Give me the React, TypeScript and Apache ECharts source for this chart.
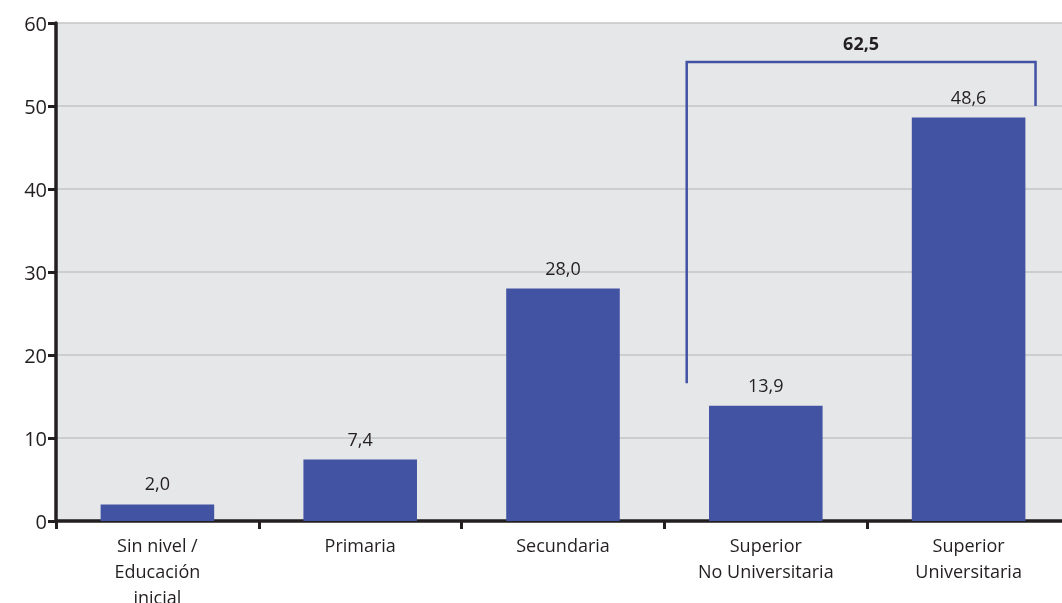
import React, { useEffect, useRef } from "react";
import * as echarts from "echarts";

const categories = ["Sin nivel /\nEducación\ninicial", "Primaria", "Secundaria", "Superior\nNo Universitaria", "Superior\nUniversitaria"];
const values = [2.0, 7.4, 28.0, 13.9, 48.6];
const yTicks = [0, 10, 20, 30, 40, 50, 60];
// bracket annotation: x positions on a 0..5 category-span scale, y values
const bracketX = [3.11, 4.83];
const bracketY = [16.6, 55.3, 50.0];
const bracketTotal = 62.5;
const bracketLabelX = 3.97;
const bracketLabelY = 57.6;

const fmt = (v: number) => v.toFixed(1).replace(".", ",");

export default function App() {
  const ref = useRef<HTMLDivElement>(null);
  useEffect(() => {
    const chart = echarts.init(ref.current!, undefined, { renderer: "svg" });
    const font = "'Open Sans', 'Noto Sans', sans-serif";
    chart.setOption({
      animation: false,
      textStyle: { fontFamily: font },
      grid: {
        left: 56, right: -8, top: 23, bottom: 82,
        outerBoundsMode: "none", containLabel: false,
        show: true, backgroundColor: "#e6e7e9", borderWidth: 0,
      },
      xAxis: [
        {
          type: "category",
          data: categories,
          axisLine: { lineStyle: { color: "#231f20", width: 3.5 } },
          axisTick: { show: true, length: 8, lineStyle: { color: "#231f20", width: 3 } },
          axisLabel: { color: "#231f20", fontSize: 18, lineHeight: 26, margin: 11, fontFamily: font },
        },
        { type: "value", min: 0, max: 5, show: false },
      ],
      yAxis: {
        type: "value",
        min: yTicks[0],
        max: yTicks[yTicks.length - 1],
        interval: 10,
        axisLine: { show: true, lineStyle: { color: "#231f20", width: 3.5 } },
        axisTick: { show: true, length: 8, lineStyle: { color: "#231f20", width: 3 } },
        axisLabel: { color: "#231f20", fontSize: 20, margin: 9, fontFamily: font },
        splitLine: { lineStyle: { color: "#c3c4c6", width: 1.5 } },
      },
      series: [
        {
          type: "bar",
          data: values,
          barWidth: "56%",
          itemStyle: { color: "#4353a3" },
          label: {
            show: true,
            position: "top",
            distance: 12,
            color: "#231f20",
            fontSize: 18,
            fontFamily: font,
            formatter: (p: any) => fmt(p.value),
          },
        },
        {
          type: "custom",
          xAxisIndex: 1,
          yAxisIndex: 0,
          data: [[bracketX[0], bracketX[1], bracketY[0], bracketY[1], bracketY[2]]],
          renderItem: (params: any, api: any) => {
            const x0 = api.value(0), x1 = api.value(1);
            const yB = api.value(2), yT = api.value(3), yE = api.value(4);
            const p1 = api.coord([x0, yB]);
            const p2 = api.coord([x0, yT]);
            const p3 = api.coord([x1, yT]);
            const p4 = api.coord([x1, yE]);
            const lp = api.coord([bracketLabelX, bracketLabelY]);
            return {
              type: "group",
              children: [
                {
                  type: "polyline",
                  shape: { points: [p1, p2, p3, p4] },
                  style: { stroke: "#4353a3", lineWidth: 2.5, fill: "none" },
                },
                {
                  type: "text",
                  x: lp[0],
                  y: lp[1],
                  style: {
                    text: fmt(bracketTotal),
                    fill: "#231f20",
                    font: `bold 18px ${font}`,
                    align: "center",
                    verticalAlign: "middle",
                  },
                },
              ],
            };
          },
          z: 5,
        },
      ],
    });
    return () => chart.dispose();
  }, []);
  return <div ref={ref} style={{ position: "fixed", left: 0, top: 0, width: 1062, height: 603 }} />;
}
